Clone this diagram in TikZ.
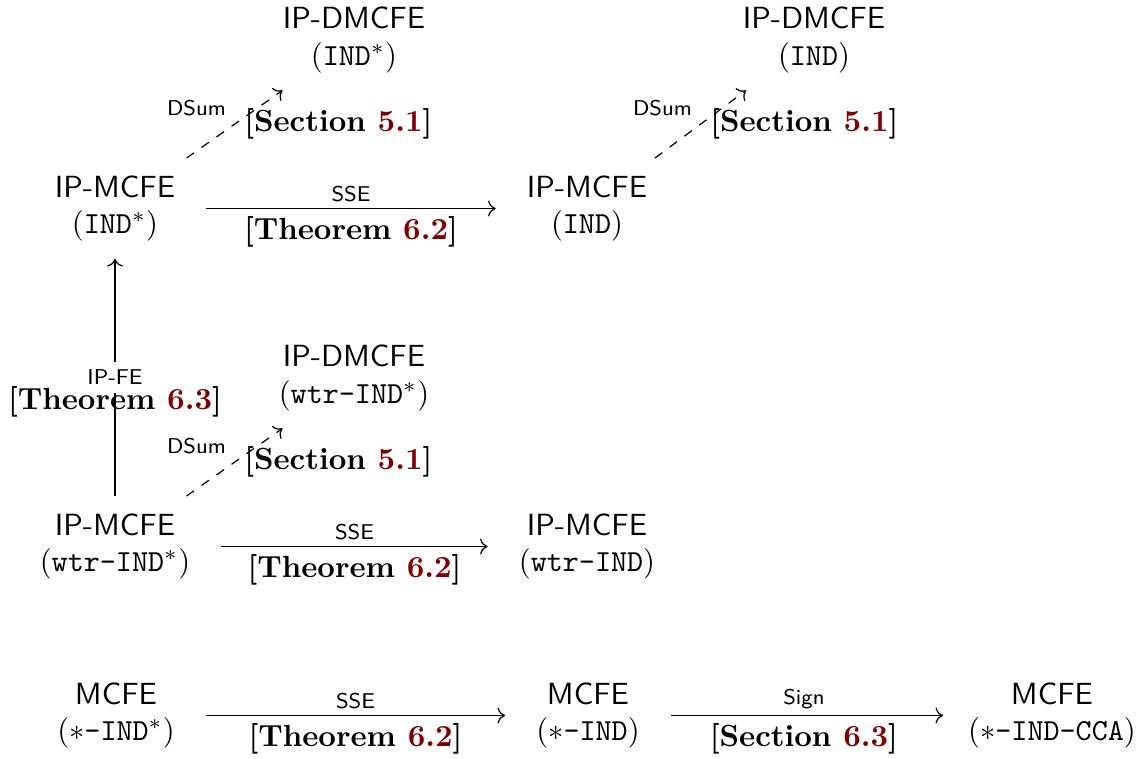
\documentclass[tikz,border=0pt]{standalone}
\usetikzlibrary{arrows.meta}
\definecolor{refred}{rgb}{0.5,0,0}
\newcommand{\rf}[1]{\textcolor{refred}{#1}}
\begin{document}
\begin{tikzpicture}[x=0.3268pt,y=-0.3268pt,
  sys/.style={align=center,font=\sffamily,inner xsep=10pt,inner ysep=5.5pt},
  arr/.style={-{Computer Modern Rightarrow}},
  darr/.style={-{Computer Modern Rightarrow},dashed},
  uplab/.style={font=\sffamily\scriptsize,anchor=south,inner sep=2pt},
  reflab/.style={font=\bfseries,anchor=north,inner sep=2.5pt},
  dlab/.style={font=\sffamily\scriptsize,anchor=south east,inner sep=2.6pt},
  dref/.style={font=\bfseries,anchor=west,inner sep=3pt},
]
\useasboundingbox (0,0) rectangle (1138,758);
% nodes
\node[sys] (A) at (354,40) {IP-DMCFE\\$(\texttt{IND}^*)$};
\node[sys] (B) at (814,40) {IP-DMCFE\\$(\texttt{IND})$};
\node[sys] (C) at (115,208.5) {IP-MCFE\\$(\texttt{IND}^*)$};
\node[sys] (D) at (587,208.5) {IP-MCFE\\$(\texttt{IND})$};
\node[sys] (E) at (354,378) {IP-DMCFE\\$(\texttt{wtr-IND}^*)$};
\node[sys] (F) at (115,546.5) {IP-MCFE\\$(\texttt{wtr-IND}^*)$};
\node[sys] (G) at (587,546.5) {IP-MCFE\\$(\texttt{wtr-IND})$};
\node[sys] (H) at (116,715.5) {MCFE\\$(\ast\texttt{-IND}^*)$};
\node[sys] (I) at (588,715.5) {MCFE\\$(\ast\texttt{-IND})$};
\node[sys] (J) at (1052,715.5) {MCFE\\$(\ast\texttt{-IND-CCA})$};
% horizontal arrows
\draw[arr] (C) -- node[midway,uplab] {SSE} node[midway,reflab] {[Theorem \rf{6.2}]} (D);
\draw[arr] (F) -- node[midway,uplab] {SSE} node[midway,reflab] {[Theorem \rf{6.2}]} (G);
\draw[arr] (H) -- node[midway,uplab] {SSE} node[midway,reflab] {[Theorem \rf{6.2}]} (I);
\draw[arr,shorten >=-2pt] (I) -- node[midway,uplab] {Sign} node[midway,reflab] {[Section \rf{6.3}]} (J);
% dashed arrows
\draw[darr] (C) -- node[midway,dlab] {DSum} node[midway,dref] {[Section \rf{5.1}]} (A);
\draw[darr] (D) -- node[midway,dlab] {DSum} node[midway,dref] {[Section \rf{5.1}]} (B);
\draw[darr] (F) -- node[midway,dlab] {DSum} node[midway,dref] {[Section \rf{5.1}]} (E);
% vertical arrow
\draw[arr] (F) -- node[midway,fill=white,font=\sffamily\scriptsize,inner sep=2.5pt] {IP-FE}
  node[midway,yshift=-8pt,font=\bfseries,inner sep=0pt] {[Theorem \rf{6.3}]} (C);
\end{tikzpicture}
\end{document}
